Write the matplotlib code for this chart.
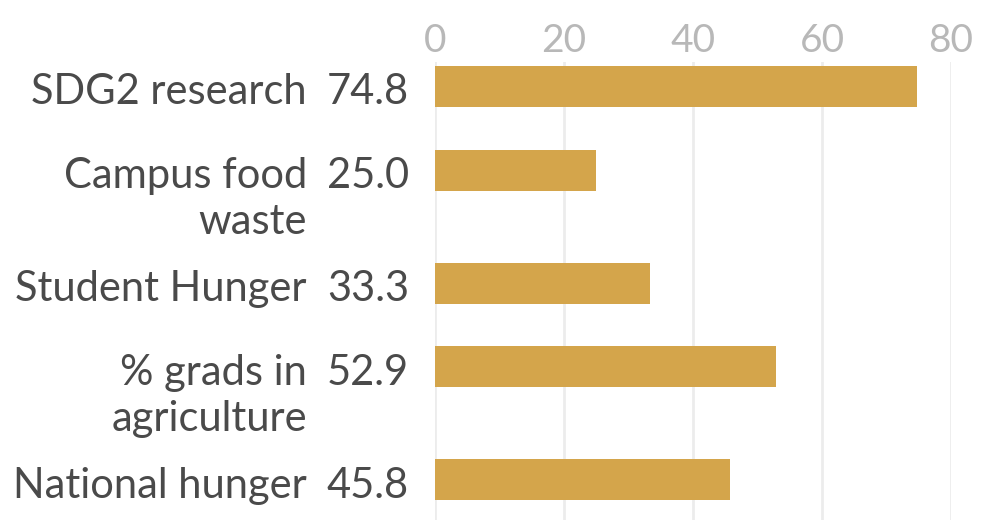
import matplotlib
matplotlib.use("Agg")
import matplotlib.pyplot as plt
import numpy as np

categories = ["SDG2 research", "Campus food\nwaste", "Student Hunger", "% grads in\nagriculture", "National hunger"]
values = [74.8, 25.0, 33.3, 52.9, 45.8]
xticks = [0, 20, 40, 60, 80]

BAR_COLOR = "#D4A54B"
TEXT_COLOR = "#4a4a4a"
TICK_COLOR = "#b8b8b8"
GRID_COLOR = "#ececec"

plt.rcParams['font.family'] = ['Lato', 'DejaVu Sans']

W, H = 987, 520
fig = plt.figure(figsize=(W / 100, H / 100), dpi=100)

# layout in pixels
x0_px, x80_px = 435, 951
top_px, bot_px = 62, 520
step_px = 84.0
extra_line_px = 29.0
first_center_px = 86.0
FS = 30
line_pitch_pt = 33
baseline_off_pt = 13.3

# category positions from label line counts (in units of step_px)
lines = [c.count("\n") + 1 for c in categories]
pos = [0.0]
for n in lines[:-1]:
    pos.append(pos[-1] + 1.0 + (n - 1) * extra_line_px / step_px)
pos = np.array(pos)

ax = fig.add_axes([x0_px / W, 1 - bot_px / H, (x80_px - x0_px) / W, (bot_px - top_px) / H])
ax.set_xlim(0, 80)
ylim_top = (top_px - first_center_px) / step_px
ylim_bot = (bot_px - first_center_px) / step_px
ax.set_ylim(ylim_bot, ylim_top)

ax.barh(pos, values, height=41 / step_px, color=BAR_COLOR, zorder=3)

ax.set_xticks(xticks)
ax.set_xticklabels([str(t) for t in xticks])
ax.xaxis.tick_top()
ax.tick_params(axis='x', length=0, pad=2, labelsize=FS - 2, labelcolor=TICK_COLOR)
ax.set_yticks([])
for s in ax.spines.values():
    s.set_visible(False)
ax.grid(axis='x', color=GRID_COLOR, linewidth=2, zorder=0)
ax.set_axisbelow(True)

# labels
for p, cat, v in zip(pos, categories, values):
    for i, ln in enumerate(cat.split("\n")):
        ax.annotate(ln, xy=(0, p), xycoords=('axes fraction', 'data'),
                    xytext=(-(x0_px - 307) * 0.72, -baseline_off_pt - i * line_pitch_pt),
                    textcoords='offset points',
                    ha='right', va='baseline', fontsize=FS, color=TEXT_COLOR,
                    annotation_clip=False)
    ax.annotate(f"{v:.1f}", xy=(0, p), xycoords=('axes fraction', 'data'),
                xytext=(-(x0_px - 409) * 0.72, -baseline_off_pt), textcoords='offset points',
                ha='right', va='baseline', fontsize=FS, color=TEXT_COLOR,
                annotation_clip=False)

fig.savefig("out.png", dpi=100, facecolor="white")
